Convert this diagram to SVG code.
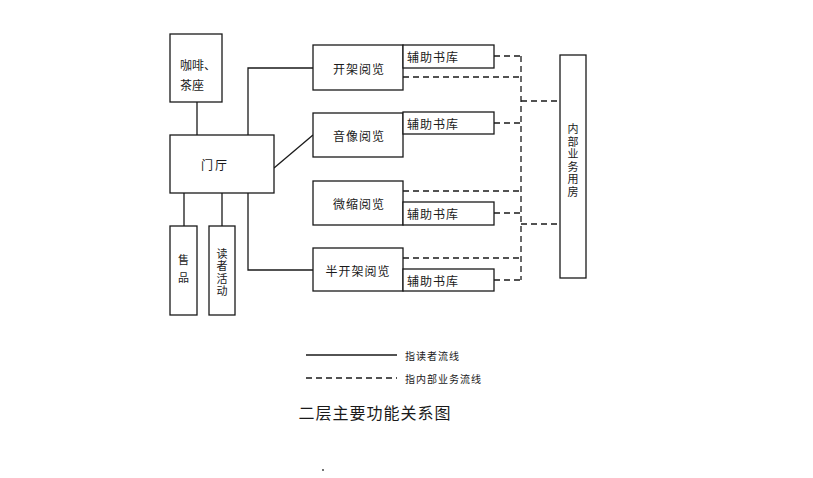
<svg xmlns="http://www.w3.org/2000/svg" width="813" height="478" viewBox="0 0 813 478">
<style>
.box{fill:#fff;stroke:#1a1a1a;stroke-width:1.3}
.ln{fill:none;stroke:#1a1a1a;stroke-width:1.3}
.dl{fill:none;stroke:#1a1a1a;stroke-width:1.3;stroke-dasharray:6,4}
text{font-family:"Noto Sans CJK SC","Noto Sans CJK JP",sans-serif;fill:#1a1a1a;font-size:12px;text-anchor:middle;dominant-baseline:central}
.v{font-size:11px;writing-mode:vertical-rl;letter-spacing:1.5px}
.lg{font-size:10px;text-anchor:start;letter-spacing:1px}
.tt{font-size:16px;letter-spacing:1px}
</style>
<rect width="813" height="478" fill="#fff"/>
<g id="connectors">
<line class="ln" x1="197" y1="102" x2="197" y2="135"/>
<polyline class="ln" points="248,135 248,68 313,68"/>
<line class="ln" x1="274" y1="168" x2="313" y2="135"/>
<polyline class="ln" points="248,193 248,270 313,270"/>
<line class="ln" x1="184" y1="193" x2="184" y2="226"/>
<line class="ln" x1="222" y1="193" x2="222" y2="226"/>
<line class="dl" x1="521" y1="56" x2="521" y2="280"/>
<line class="dl" x1="494" y1="56" x2="521" y2="56"/>
<line class="dl" x1="403" y1="77" x2="521" y2="77"/>
<line class="dl" x1="521" y1="101" x2="560" y2="101"/>
<line class="dl" x1="494" y1="123" x2="521" y2="123"/>
<line class="dl" x1="403" y1="191" x2="521" y2="191"/>
<line class="dl" x1="494" y1="213" x2="521" y2="213"/>
<line class="dl" x1="521" y1="224" x2="560" y2="224"/>
<line class="dl" x1="403" y1="258" x2="521" y2="258"/>
<line class="dl" x1="494" y1="280" x2="521" y2="280"/>
</g>
<g id="cafe"><rect class="box" x="170" y="34" width="52" height="68"/><text x="198" y="64">咖啡、</text><text x="192" y="84">茶座</text></g>
<g id="lobby"><rect class="box" x="170" y="135" width="104" height="58"/><text x="215" y="164" style="letter-spacing:2px">门厅</text></g>
<g id="shop"><rect class="box" x="170" y="226" width="27" height="89"/><text class="v" x="183.5" y="272" style="letter-spacing:7px">售品</text></g>
<g id="activity"><rect class="box" x="209" y="226" width="26" height="89"/><text class="v" x="222" y="273">读者活动</text></g>
<g id="open"><rect class="box" x="313" y="45" width="90" height="45"/><text x="359" y="68" style="letter-spacing:1px">开架阅览</text></g>
<g id="open-store"><rect class="box" x="403" y="45" width="91" height="23"/><text x="433" y="56" style="letter-spacing:1px">辅助书库</text></g>
<g id="av"><rect class="box" x="313" y="113" width="90" height="44"/><text x="359" y="135" style="letter-spacing:1px">音像阅览</text></g>
<g id="av-store"><rect class="box" x="403" y="112" width="91" height="22"/><text x="433" y="123" style="letter-spacing:1px">辅助书库</text></g>
<g id="micro"><rect class="box" x="313" y="181" width="90" height="44"/><text x="359" y="203" style="letter-spacing:1px">微缩阅览</text></g>
<g id="micro-store"><rect class="box" x="403" y="202" width="91" height="23"/><text x="433" y="213.5" style="letter-spacing:1px">辅助书库</text></g>
<g id="halfopen"><rect class="box" x="313" y="248" width="90" height="43"/><text x="358" y="270" style="letter-spacing:1px">半开架阅览</text></g>
<g id="halfopen-store"><rect class="box" x="403" y="269" width="91" height="22"/><text x="433" y="280" style="letter-spacing:1px">辅助书库</text></g>
<g id="internal"><rect class="box" x="560" y="55" width="26" height="223"/>
<text class="v" x="573" y="161">内部业务用房</text></g>
<g id="legend">
<line class="ln" x1="306" y1="355" x2="397" y2="355"/>
<text class="lg" x="405" y="355">指读者流线</text>
<line class="dl" x1="306" y1="378" x2="397" y2="378"/>
<text class="lg" x="405" y="378">指内部业务流线</text>
<text class="tt" x="375" y="412">二层主要功能关系图</text>
</g>
<circle cx="323" cy="470" r="0.9" fill="#333"/>
</svg>
